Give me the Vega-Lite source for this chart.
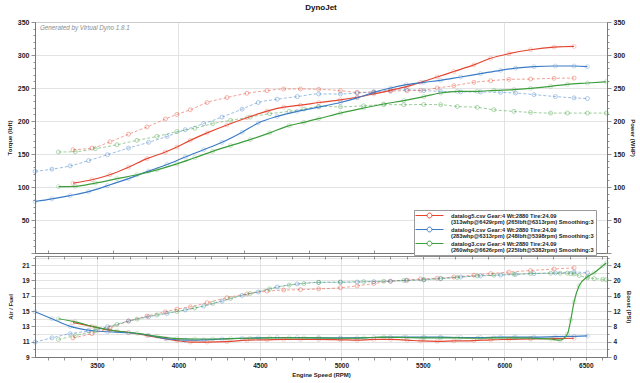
{
  "$schema": "https://vega.github.io/schema/vega-lite/v6.json",
  "background": "white",
  "padding": {"left": 5, "top": 3, "right": 5, "bottom": 4},
  "title": {"text": "DynoJet", "fontSize": 8, "fontWeight": "bold", "font": "Liberation Sans", "color": "#111", "offset": 6, "anchor": "middle"},
  "spacing": 3,
  "bounds": "flush",
  "config": {
    "font": "Liberation Sans",
    "view": {"stroke": "#8a8a8a", "strokeWidth": 1},
    "axis": {"labelFont": "Liberation Sans", "labelFontWeight": "bold", "labelColor": "#222", "labelFontSize": 6.5, "titleFont": "Liberation Sans", "titleFontWeight": "bold", "titleFontSize": 6, "titleColor": "#222", "domainColor": "#777", "tickColor": "#777", "gridColor": "#dcdcdc", "gridWidth": 0.8, "tickWidth": 0.8, "domainWidth": 1, "labelOverlap": false, "labelFlush": false}
  },
  "datasets": {
    "pw": [
      {"s": "datalog5.csv", "rpm": 3353, "tq": 156.5, "hp": 106},
      {"s": "datalog5.csv", "rpm": 3469, "tq": 159, "hp": 111},
      {"s": "datalog5.csv", "rpm": 3580, "tq": 168.5, "hp": 118.6},
      {"s": "datalog5.csv", "rpm": 3694, "tq": 180, "hp": 130},
      {"s": "datalog5.csv", "rpm": 3807, "tq": 191, "hp": 143},
      {"s": "datalog5.csv", "rpm": 3920, "tq": 203, "hp": 153},
      {"s": "datalog5.csv", "rpm": 3991, "tq": 210, "hp": 160.6},
      {"s": "datalog5.csv", "rpm": 4073, "tq": 217, "hp": 170.7},
      {"s": "datalog5.csv", "rpm": 4176, "tq": 228, "hp": 182},
      {"s": "datalog5.csv", "rpm": 4298, "tq": 235.5, "hp": 194},
      {"s": "datalog5.csv", "rpm": 4421, "tq": 242, "hp": 205},
      {"s": "datalog5.csv", "rpm": 4544, "tq": 246, "hp": 215},
      {"s": "datalog5.csv", "rpm": 4646, "tq": 248.5, "hp": 221},
      {"s": "datalog5.csv", "rpm": 4749, "tq": 248.5, "hp": 224},
      {"s": "datalog5.csv", "rpm": 4861, "tq": 248, "hp": 228},
      {"s": "datalog5.csv", "rpm": 4994, "tq": 246, "hp": 232},
      {"s": "datalog5.csv", "rpm": 5097, "tq": 243.5, "hp": 236},
      {"s": "datalog5.csv", "rpm": 5199, "tq": 243.5, "hp": 241},
      {"s": "datalog5.csv", "rpm": 5301, "tq": 245, "hp": 246.5},
      {"s": "datalog5.csv", "rpm": 5404, "tq": 246, "hp": 252.5},
      {"s": "datalog5.csv", "rpm": 5486, "tq": 246.5, "hp": 258.6},
      {"s": "datalog5.csv", "rpm": 5588, "tq": 250, "hp": 266.7},
      {"s": "datalog5.csv", "rpm": 5690, "tq": 253.5, "hp": 275},
      {"s": "datalog5.csv", "rpm": 5813, "tq": 258.6, "hp": 285},
      {"s": "datalog5.csv", "rpm": 5916, "tq": 261, "hp": 295},
      {"s": "datalog5.csv", "rpm": 6028, "tq": 263, "hp": 302},
      {"s": "datalog5.csv", "rpm": 6161, "tq": 263.6, "hp": 308},
      {"s": "datalog5.csv", "rpm": 6305, "tq": 264.7, "hp": 312},
      {"s": "datalog5.csv", "rpm": 6428, "tq": 265, "hp": 313},
      {"s": "datalog4.csv", "rpm": 3121, "tq": 123.7, "hp": 78},
      {"s": "datalog4.csv", "rpm": 3224, "tq": 127, "hp": 82},
      {"s": "datalog4.csv", "rpm": 3336, "tq": 132, "hp": 87},
      {"s": "datalog4.csv", "rpm": 3449, "tq": 140, "hp": 93},
      {"s": "datalog4.csv", "rpm": 3565, "tq": 149, "hp": 102},
      {"s": "datalog4.csv", "rpm": 3694, "tq": 159, "hp": 112.6},
      {"s": "datalog4.csv", "rpm": 3817, "tq": 167.7, "hp": 124},
      {"s": "datalog4.csv", "rpm": 3930, "tq": 176.7, "hp": 134},
      {"s": "datalog4.csv", "rpm": 4042, "tq": 186.8, "hp": 145.5},
      {"s": "datalog4.csv", "rpm": 4155, "tq": 196, "hp": 156.5},
      {"s": "datalog4.csv", "rpm": 4268, "tq": 206, "hp": 167.7},
      {"s": "datalog4.csv", "rpm": 4391, "tq": 218, "hp": 183},
      {"s": "datalog4.csv", "rpm": 4490, "tq": 228, "hp": 197},
      {"s": "datalog4.csv", "rpm": 4606, "tq": 233, "hp": 207},
      {"s": "datalog4.csv", "rpm": 4729, "tq": 237, "hp": 214.6},
      {"s": "datalog4.csv", "rpm": 4861, "tq": 241, "hp": 221},
      {"s": "datalog4.csv", "rpm": 4994, "tq": 241, "hp": 228},
      {"s": "datalog4.csv", "rpm": 5097, "tq": 242.4, "hp": 235},
      {"s": "datalog4.csv", "rpm": 5199, "tq": 244.4, "hp": 243.4},
      {"s": "datalog4.csv", "rpm": 5301, "tq": 246.5, "hp": 250},
      {"s": "datalog4.csv", "rpm": 5398, "tq": 247.5, "hp": 255},
      {"s": "datalog4.csv", "rpm": 5506, "tq": 246, "hp": 258.6},
      {"s": "datalog4.csv", "rpm": 5609, "tq": 245, "hp": 261.6},
      {"s": "datalog4.csv", "rpm": 5732, "tq": 244, "hp": 266.7},
      {"s": "datalog4.csv", "rpm": 5854, "tq": 244, "hp": 271.7},
      {"s": "datalog4.csv", "rpm": 5977, "tq": 243.4, "hp": 276.8},
      {"s": "datalog4.csv", "rpm": 6069, "tq": 242.4, "hp": 280},
      {"s": "datalog4.csv", "rpm": 6182, "tq": 240, "hp": 282.3},
      {"s": "datalog4.csv", "rpm": 6313, "tq": 237, "hp": 283.3},
      {"s": "datalog4.csv", "rpm": 6428, "tq": 235, "hp": 283.3},
      {"s": "datalog4.csv", "rpm": 6510, "tq": 234, "hp": 282.3},
      {"s": "datalog3.csv", "rpm": 3264, "tq": 153, "hp": 100.5},
      {"s": "datalog3.csv", "rpm": 3367, "tq": 153.5, "hp": 101},
      {"s": "datalog3.csv", "rpm": 3490, "tq": 158, "hp": 106},
      {"s": "datalog3.csv", "rpm": 3623, "tq": 164, "hp": 112.6},
      {"s": "datalog3.csv", "rpm": 3746, "tq": 170.7, "hp": 118.6},
      {"s": "datalog3.csv", "rpm": 3869, "tq": 176.7, "hp": 126},
      {"s": "datalog3.csv", "rpm": 3991, "tq": 184, "hp": 135},
      {"s": "datalog3.csv", "rpm": 4100, "tq": 189, "hp": 144.4},
      {"s": "datalog3.csv", "rpm": 4210, "tq": 196, "hp": 154},
      {"s": "datalog3.csv", "rpm": 4320, "tq": 201, "hp": 162.6},
      {"s": "datalog3.csv", "rpm": 4440, "tq": 206, "hp": 171.7},
      {"s": "datalog3.csv", "rpm": 4560, "tq": 211, "hp": 182},
      {"s": "datalog3.csv", "rpm": 4680, "tq": 214.6, "hp": 193},
      {"s": "datalog3.csv", "rpm": 4770, "tq": 218, "hp": 198},
      {"s": "datalog3.csv", "rpm": 4861, "tq": 222, "hp": 203.5},
      {"s": "datalog3.csv", "rpm": 4994, "tq": 221.5, "hp": 212},
      {"s": "datalog3.csv", "rpm": 5137, "tq": 223, "hp": 219.7},
      {"s": "datalog3.csv", "rpm": 5260, "tq": 224.7, "hp": 225.8},
      {"s": "datalog3.csv", "rpm": 5383, "tq": 224.7, "hp": 231},
      {"s": "datalog3.csv", "rpm": 5506, "tq": 225, "hp": 237},
      {"s": "datalog3.csv", "rpm": 5609, "tq": 224.7, "hp": 242.4},
      {"s": "datalog3.csv", "rpm": 5711, "tq": 222, "hp": 245},
      {"s": "datalog3.csv", "rpm": 5834, "tq": 220.7, "hp": 245},
      {"s": "datalog3.csv", "rpm": 5936, "tq": 217, "hp": 246.5},
      {"s": "datalog3.csv", "rpm": 6059, "tq": 214.6, "hp": 247.5},
      {"s": "datalog3.csv", "rpm": 6161, "tq": 213, "hp": 249.5},
      {"s": "datalog3.csv", "rpm": 6284, "tq": 212, "hp": 252.5},
      {"s": "datalog3.csv", "rpm": 6387, "tq": 212, "hp": 255.6},
      {"s": "datalog3.csv", "rpm": 6510, "tq": 212, "hp": 257.6},
      {"s": "datalog3.csv", "rpm": 6626, "tq": 212, "hp": 259.5}
    ],
    "af": [
      {"s": "datalog5.csv", "rpm": 3353, "af": 13.5, "boost": 5.0},
      {"s": "datalog5.csv", "rpm": 3469, "af": 13.0, "boost": 6.1},
      {"s": "datalog5.csv", "rpm": 3580, "af": 12.5, "boost": 7.6},
      {"s": "datalog5.csv", "rpm": 3694, "af": 12.2, "boost": 9.4},
      {"s": "datalog5.csv", "rpm": 3807, "af": 11.8, "boost": 10.7},
      {"s": "datalog5.csv", "rpm": 3920, "af": 11.4, "boost": 11.8},
      {"s": "datalog5.csv", "rpm": 3991, "af": 11.15, "boost": 12.5},
      {"s": "datalog5.csv", "rpm": 4073, "af": 10.95, "boost": 13.1},
      {"s": "datalog5.csv", "rpm": 4176, "af": 10.95, "boost": 14.2},
      {"s": "datalog5.csv", "rpm": 4298, "af": 11.0, "boost": 15.5},
      {"s": "datalog5.csv", "rpm": 4421, "af": 11.2, "boost": 16.5},
      {"s": "datalog5.csv", "rpm": 4544, "af": 11.25, "boost": 17.2},
      {"s": "datalog5.csv", "rpm": 4646, "af": 11.3, "boost": 17.5},
      {"s": "datalog5.csv", "rpm": 4749, "af": 11.3, "boost": 17.6},
      {"s": "datalog5.csv", "rpm": 4861, "af": 11.3, "boost": 17.8},
      {"s": "datalog5.csv", "rpm": 4994, "af": 11.25, "boost": 18.1},
      {"s": "datalog5.csv", "rpm": 5097, "af": 11.2, "boost": 18.6},
      {"s": "datalog5.csv", "rpm": 5199, "af": 11.3, "boost": 19.2},
      {"s": "datalog5.csv", "rpm": 5301, "af": 11.3, "boost": 19.8},
      {"s": "datalog5.csv", "rpm": 5404, "af": 11.2, "boost": 20.1},
      {"s": "datalog5.csv", "rpm": 5486, "af": 11.1, "boost": 20.4},
      {"s": "datalog5.csv", "rpm": 5588, "af": 11.05, "boost": 20.6},
      {"s": "datalog5.csv", "rpm": 5690, "af": 11.1, "boost": 20.9},
      {"s": "datalog5.csv", "rpm": 5813, "af": 11.15, "boost": 21.4},
      {"s": "datalog5.csv", "rpm": 5916, "af": 11.25, "boost": 21.8},
      {"s": "datalog5.csv", "rpm": 6028, "af": 11.3, "boost": 22.2},
      {"s": "datalog5.csv", "rpm": 6161, "af": 11.35, "boost": 22.6},
      {"s": "datalog5.csv", "rpm": 6305, "af": 11.4, "boost": 23.0},
      {"s": "datalog5.csv", "rpm": 6428, "af": 11.45, "boost": 23.3},
      {"s": "datalog4.csv", "rpm": 3121, "af": 14.9, "boost": 3.9},
      {"s": "datalog4.csv", "rpm": 3224, "af": 14.0, "boost": 5.0},
      {"s": "datalog4.csv", "rpm": 3336, "af": 13.0, "boost": 6.1},
      {"s": "datalog4.csv", "rpm": 3449, "af": 12.5, "boost": 6.8},
      {"s": "datalog4.csv", "rpm": 3565, "af": 12.3, "boost": 7.9},
      {"s": "datalog4.csv", "rpm": 3694, "af": 12.17, "boost": 9.4},
      {"s": "datalog4.csv", "rpm": 3817, "af": 11.85, "boost": 10.5},
      {"s": "datalog4.csv", "rpm": 3930, "af": 11.35, "boost": 11.4},
      {"s": "datalog4.csv", "rpm": 4042, "af": 11.2, "boost": 12.3},
      {"s": "datalog4.csv", "rpm": 4155, "af": 11.25, "boost": 13.3},
      {"s": "datalog4.csv", "rpm": 4268, "af": 11.35, "boost": 14.6},
      {"s": "datalog4.csv", "rpm": 4391, "af": 11.45, "boost": 16.1},
      {"s": "datalog4.csv", "rpm": 4490, "af": 11.5, "boost": 17.0},
      {"s": "datalog4.csv", "rpm": 4606, "af": 11.55, "boost": 18.3},
      {"s": "datalog4.csv", "rpm": 4729, "af": 11.55, "boost": 19.1},
      {"s": "datalog4.csv", "rpm": 4861, "af": 11.5, "boost": 19.5},
      {"s": "datalog4.csv", "rpm": 4994, "af": 11.5, "boost": 19.5},
      {"s": "datalog4.csv", "rpm": 5097, "af": 11.5, "boost": 19.6},
      {"s": "datalog4.csv", "rpm": 5199, "af": 11.55, "boost": 19.7},
      {"s": "datalog4.csv", "rpm": 5301, "af": 11.6, "boost": 19.8},
      {"s": "datalog4.csv", "rpm": 5398, "af": 11.6, "boost": 20.0},
      {"s": "datalog4.csv", "rpm": 5506, "af": 11.6, "boost": 20.2},
      {"s": "datalog4.csv", "rpm": 5609, "af": 11.6, "boost": 20.5},
      {"s": "datalog4.csv", "rpm": 5732, "af": 11.55, "boost": 20.9},
      {"s": "datalog4.csv", "rpm": 5854, "af": 11.55, "boost": 21.2},
      {"s": "datalog4.csv", "rpm": 5977, "af": 11.6, "boost": 21.4},
      {"s": "datalog4.csv", "rpm": 6069, "af": 11.6, "boost": 21.6},
      {"s": "datalog4.csv", "rpm": 6182, "af": 11.6, "boost": 21.8},
      {"s": "datalog4.csv", "rpm": 6313, "af": 11.65, "boost": 22.0},
      {"s": "datalog4.csv", "rpm": 6428, "af": 11.7, "boost": 22.2},
      {"s": "datalog4.csv", "rpm": 6510, "af": 11.75, "boost": 22.0},
      {"s": "datalog3.csv", "rpm": 3264, "af": 14.0, "boost": 4.6},
      {"s": "datalog3.csv", "rpm": 3367, "af": 13.6, "boost": 5.6},
      {"s": "datalog3.csv", "rpm": 3490, "af": 12.9, "boost": 6.9},
      {"s": "datalog3.csv", "rpm": 3623, "af": 12.4, "boost": 8.5},
      {"s": "datalog3.csv", "rpm": 3746, "af": 12.1, "boost": 9.9},
      {"s": "datalog3.csv", "rpm": 3869, "af": 11.7, "boost": 11.0},
      {"s": "datalog3.csv", "rpm": 3991, "af": 11.4, "boost": 11.9},
      {"s": "datalog3.csv", "rpm": 4100, "af": 11.35, "boost": 12.8},
      {"s": "datalog3.csv", "rpm": 4210, "af": 11.35, "boost": 14.0},
      {"s": "datalog3.csv", "rpm": 4320, "af": 11.4, "boost": 15.3},
      {"s": "datalog3.csv", "rpm": 4440, "af": 11.45, "boost": 16.6},
      {"s": "datalog3.csv", "rpm": 4560, "af": 11.5, "boost": 17.8},
      {"s": "datalog3.csv", "rpm": 4680, "af": 11.5, "boost": 18.8},
      {"s": "datalog3.csv", "rpm": 4770, "af": 11.5, "boost": 19.2},
      {"s": "datalog3.csv", "rpm": 4861, "af": 11.5, "boost": 19.5},
      {"s": "datalog3.csv", "rpm": 4994, "af": 11.45, "boost": 19.6},
      {"s": "datalog3.csv", "rpm": 5137, "af": 11.5, "boost": 19.7},
      {"s": "datalog3.csv", "rpm": 5260, "af": 11.6, "boost": 19.8},
      {"s": "datalog3.csv", "rpm": 5383, "af": 11.55, "boost": 20.0},
      {"s": "datalog3.csv", "rpm": 5506, "af": 11.5, "boost": 20.2},
      {"s": "datalog3.csv", "rpm": 5609, "af": 11.5, "boost": 20.5},
      {"s": "datalog3.csv", "rpm": 5711, "af": 11.5, "boost": 20.8},
      {"s": "datalog3.csv", "rpm": 5834, "af": 11.45, "boost": 21.2},
      {"s": "datalog3.csv", "rpm": 5936, "af": 11.5, "boost": 21.4},
      {"s": "datalog3.csv", "rpm": 6059, "af": 11.5, "boost": 21.6},
      {"s": "datalog3.csv", "rpm": 6161, "af": 11.45, "boost": 21.8},
      {"s": "datalog3.csv", "rpm": 6284, "af": 11.35, "boost": 21.9},
      {"s": "datalog3.csv", "rpm": 6342, "af": 11.2, "boost": 21.9},
      {"s": "datalog3.csv", "rpm": 6387, "af": 12.0, "boost": 21.9},
      {"s": "datalog3.csv", "rpm": 6408, "af": 13.9, "boost": 21.8},
      {"s": "datalog3.csv", "rpm": 6428, "af": 16.2, "boost": 21.7},
      {"s": "datalog3.csv", "rpm": 6459, "af": 18.3, "boost": 21.3},
      {"s": "datalog3.csv", "rpm": 6510, "af": 19.5, "boost": 20.7},
      {"s": "datalog3.csv", "rpm": 6551, "af": 20.0, "boost": 20.5},
      {"s": "datalog3.csv", "rpm": 6603, "af": 20.9, "boost": 20.3},
      {"s": "datalog3.csv", "rpm": 6626, "af": 21.3, "boost": 20.2}
    ]
  },
  "vconcat": [
    {
      "width": 572,
      "height": 231,
      "data": {"name": "pw"},
      "resolve": {"scale": {"y": "independent"}},
      "layer": [
        {
          "mark": {"type": "line", "interpolate": "monotone", "strokeDash": [3, 2], "strokeWidth": 1, "strokeOpacity": 0.5},
          "encoding": {
            "x": {"field": "rpm", "type": "quantitative", "scale": {"domain": [3120, 6630], "nice": false, "zero": false},
              "axis": {"values": [3200,3300,3400,3500,3600,3700,3800,3900,4000,4100,4200,4300,4400,4500,4600,4700,4800,4900,5000,5100,5200,5300,5400,5500,5600,5700,5800,5900,6000,6100,6200,6300,6400,6500,6600], "labels": false, "title": null, "tickSize": -3, "grid": true, "gridOpacity": {"condition": {"test": "datum.value % 500 === 0", "value": 1}, "value": 0}}},
            "y": {"field": "tq", "type": "quantitative", "scale": {"domain": [0, 350], "nice": false},
              "axis": {"orient": "left", "values": [0,10,20,30,40,50,60,70,80,90,100,110,120,130,140,150,160,170,180,190,200,210,220,230,240,250,260,270,280,290,300,310,320,330,340,350], "labelExpr": "datum.value % 50 === 0 && datum.value > 0 ? datum.label : ''", "tickSize": {"condition": {"test": "datum.value % 50 === 0", "value": 4}, "value": 2}, "grid": true, "gridOpacity": {"condition": {"test": "datum.value % 50 === 0", "value": 1}, "value": 0}, "title": "Torque (lbft)", "labelFontSize": 7, "labelPadding": 2, "titlePadding": 5}},
            "stroke": {"field": "s", "type": "nominal",
              "scale": {"domain": ["datalog5.csv", "datalog4.csv", "datalog3.csv"], "range": ["#e5452f", "#3a7cc6", "#3c9e3c"]},
              "legend": {"orient": "none", "legendX": 379, "legendY": 188, "title": null,
                "symbolType": "M-4.67,0H-0.8M0.8,0H4.67M0.8,0A0.8,0.8 0 1,1 -0.8,0A0.8,0.8 0 1,1 0.8,0",
                "symbolSize": 36, "symbolStrokeWidth": 1, "symbolFillColor": "white", "symbolOpacity": 1, "symbolOffset": 10,
                "labelExpr": "datum.label == 'datalog5.csv' ? ['datalog5.csv Gear:4 Wt:2880 Tire:24.09', '(313whp@6429rpm) (265lbft@6313rpm) Smoothing:3'] : datum.label == 'datalog4.csv' ? ['datalog4.csv Gear:4 Wt:2880 Tire:24.09', '(283whp@6313rpm) (248lbft@5398rpm) Smoothing:3'] : ['datalog3.csv Gear:4 Wt:2880 Tire:24.09', '(260whp@6626rpm) (225lbft@5382rpm) Smoothing:3']",
                "labelFont": "Liberation Sans", "labelFontSize": 5.7, "labelFontWeight": "bold", "labelColor": "#222", "labelLimit": 300, "labelOffset": 18, "labelBaseline": "middle",
                "fillColor": "white", "strokeColor": "#999", "padding": 2, "rowPadding": 0,
                "encode": {"labels": {"update": {"lineHeight": {"value": 6.4}}}}}}
          }
        },
        {
          "mark": {"type": "point", "shape": "circle", "filled": false, "size": 16, "strokeWidth": 0.8, "opacity": 0.5},
          "encoding": {
            "x": {"field": "rpm", "type": "quantitative"},
            "y": {"field": "tq", "type": "quantitative", "scale": {"domain": [0, 350], "nice": false}, "axis": null},
            "stroke": {"field": "s", "type": "nominal"}
          }
        },
        {
          "mark": {"type": "line", "interpolate": "monotone", "strokeWidth": 1.2},
          "encoding": {
            "x": {"field": "rpm", "type": "quantitative"},
            "y": {"field": "hp", "type": "quantitative", "scale": {"domain": [0, 350], "nice": false},
              "axis": {"orient": "right", "values": [0,10,20,30,40,50,60,70,80,90,100,110,120,130,140,150,160,170,180,190,200,210,220,230,240,250,260,270,280,290,300,310,320,330,340,350], "labelExpr": "datum.value % 50 === 0 && datum.value > 0 ? datum.label : ''", "tickSize": {"condition": {"test": "datum.value % 50 === 0", "value": 4}, "value": 2}, "grid": false, "title": "Power (WHP)", "labelFontSize": 7, "labelPadding": 2, "titlePadding": 5}},
            "stroke": {"field": "s", "type": "nominal"}
          }
        },
        {
          "mark": {"type": "point", "shape": "circle", "filled": false, "size": 16, "strokeWidth": 0.8, "opacity": 0.35},
          "encoding": {
            "x": {"field": "rpm", "type": "quantitative"},
            "y": {"field": "hp", "type": "quantitative", "scale": {"domain": [0, 350], "nice": false}, "axis": null},
            "stroke": {"field": "s", "type": "nominal"}
          }
        },
        {
          "data": {"values": [{"note": "Generated by Virtual Dyno 1.8.1", "rpm": 3150, "v": 341}]},
          "mark": {"type": "text", "align": "left", "baseline": "middle", "font": "Liberation Sans", "fontStyle": "italic", "fontWeight": "normal", "fontSize": 6.3, "fill": "#8c8c8c"},
          "encoding": {
            "x": {"field": "rpm", "type": "quantitative"},
            "y": {"field": "v", "type": "quantitative", "scale": {"domain": [0, 350], "nice": false}, "axis": null},
            "text": {"field": "note"}
          }
        }
      ]
    },
    {
      "width": 572,
      "height": 101,
      "data": {"name": "af"},
      "resolve": {"scale": {"y": "independent"}, "axis": {"x": "independent"}},
      "layer": [
        {
          "mark": {"type": "line", "interpolate": "monotone", "strokeWidth": 1.2},
          "encoding": {
            "x": {"field": "rpm", "type": "quantitative", "scale": {"domain": [3120, 6630], "nice": false, "zero": false},
              "axis": {"values": [3200,3300,3400,3500,3600,3700,3800,3900,4000,4100,4200,4300,4400,4500,4600,4700,4800,4900,5000,5100,5200,5300,5400,5500,5600,5700,5800,5900,6000,6100,6200,6300,6400,6500,6600], "format": "d", "labelExpr": "datum.value % 500 === 0 ? datum.label : ''", "title": "Engine Speed (RPM)", "tickSize": 3, "labelPadding": 2, "titlePadding": 3, "grid": true, "gridOpacity": {"condition": {"test": "datum.value % 500 === 0", "value": 1}, "value": 0}, "labelFontSize": 6.5}},
            "y": {"field": "af", "type": "quantitative", "scale": {"domain": [9, 22.2], "nice": false, "zero": false},
              "axis": {"orient": "left", "values": [9,10,11,12,13,14,15,16,17,18,19,20,21,22], "labelExpr": "datum.value % 2 === 1 ? datum.label : ''", "tickSize": {"condition": {"test": "datum.value % 2 === 1", "value": 4}, "value": 2}, "grid": true, "title": "Air / Fuel", "labelFontSize": 6.5, "labelPadding": 2, "titlePadding": 8}},
            "stroke": {"field": "s", "type": "nominal"}
          }
        },
        {
          "mark": {"type": "point", "shape": "circle", "filled": false, "size": 16, "strokeWidth": 0.8, "opacity": 0.3},
          "encoding": {
            "x": {"field": "rpm", "type": "quantitative", "axis": null},
            "y": {"field": "af", "type": "quantitative", "scale": {"domain": [9, 22.2], "nice": false, "zero": false}, "axis": null},
            "stroke": {"field": "s", "type": "nominal"}
          }
        },
        {
          "mark": {"type": "line", "interpolate": "monotone", "strokeDash": [3, 2], "strokeWidth": 1, "strokeOpacity": 0.5},
          "encoding": {
            "x": {"field": "rpm", "type": "quantitative",
              "axis": {"orient": "top", "values": [3200,3300,3400,3500,3600,3700,3800,3900,4000,4100,4200,4300,4400,4500,4600,4700,4800,4900,5000,5100,5200,5300,5400,5500,5600,5700,5800,5900,6000,6100,6200,6300,6400,6500,6600], "labels": false, "title": null, "domain": false, "grid": false, "tickSize": -3}},
            "y": {"field": "boost", "type": "quantitative", "scale": {"domain": [0, 26.4], "nice": false},
              "axis": {"orient": "right", "values": [0,2,4,6,8,10,12,14,16,18,20,22,24,26], "labelExpr": "datum.value % 4 === 0 ? datum.label : ''", "tickSize": {"condition": {"test": "datum.value % 4 === 0", "value": 4}, "value": 2}, "grid": false, "title": "Boost (PSI)", "labelFontSize": 6.5, "labelPadding": 2, "titlePadding": 5}},
            "stroke": {"field": "s", "type": "nominal"}
          }
        },
        {
          "mark": {"type": "point", "shape": "circle", "filled": false, "size": 16, "strokeWidth": 0.8, "opacity": 0.5},
          "encoding": {
            "x": {"field": "rpm", "type": "quantitative", "axis": null},
            "y": {"field": "boost", "type": "quantitative", "scale": {"domain": [0, 26.4], "nice": false}, "axis": null},
            "stroke": {"field": "s", "type": "nominal"}
          }
        }
      ]
    }
  ]
}
